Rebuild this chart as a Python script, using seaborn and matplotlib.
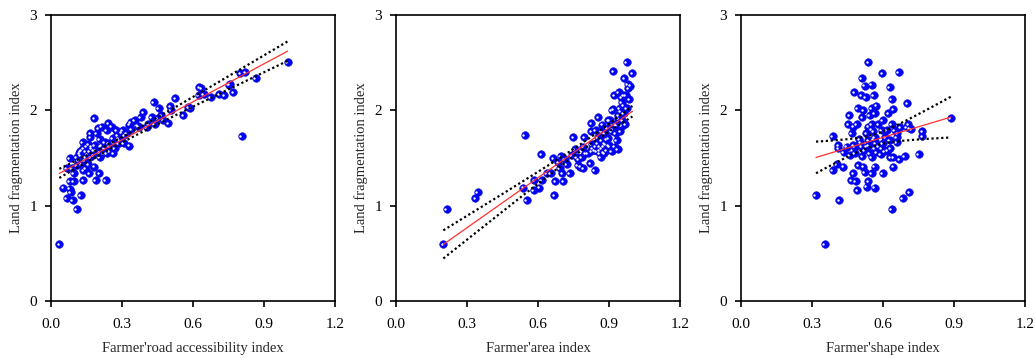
import matplotlib
matplotlib.use("Agg")
import matplotlib.pyplot as plt
import matplotlib.transforms as mtransforms
import numpy as np
import pandas as pd
import seaborn as sns

# panel 1: road accessibility vs land fragmentation
road_x = [0.035, 1.0, 0.806, 0.865, 0.80, 0.82, 0.75, 0.755, 0.77, 0.733, 0.71, 0.675,
          0.627, 0.635, 0.624, 0.645, 0.589, 0.58, 0.558, 0.525, 0.507, 0.503, 0.496,
          0.466, 0.456, 0.435, 0.475, 0.438, 0.425, 0.404, 0.39, 0.379, 0.366, 0.355,
          0.338, 0.331, 0.32, 0.331, 0.308, 0.296, 0.303, 0.275, 0.28, 0.285, 0.287,
          0.263, 0.27, 0.249, 0.256, 0.242, 0.235, 0.232, 0.221, 0.228, 0.214, 0.207,
          0.214, 0.2, 0.182, 0.193, 0.186, 0.179, 0.19, 0.204, 0.183, 0.165, 0.165,
          0.158, 0.162, 0.165, 0.158, 0.162, 0.148, 0.144, 0.137, 0.134, 0.148, 0.137,
          0.13, 0.123, 0.123, 0.115, 0.125, 0.108, 0.097, 0.08, 0.092, 0.083, 0.08,
          0.066, 0.052, 0.08, 0.097, 0.087, 0.066, 0.108, 0.108, 0.13, 0.151, 0.172,
          0.207, 0.179, 0.207, 0.235, 0.249, 0.263, 0.137, 0.12, 0.14, 0.155, 0.17,
          0.19, 0.21, 0.225, 0.245, 0.26, 0.29, 0.31, 0.34, 0.37, 0.41, 0.45]
road_y = [0.594, 2.51, 1.734, 2.336, 2.39, 2.40, 2.27, 2.28, 2.19, 2.16, 2.17, 2.14,
          2.24, 2.23, 2.16, 2.17, 2.02, 2.03, 1.95, 2.13, 2.0, 2.045, 1.87,
          1.95, 2.02, 2.09, 1.90, 1.86, 1.93, 1.82, 1.98, 1.93, 1.84, 1.90,
          1.88, 1.85, 1.76, 1.63, 1.66, 1.77, 1.79, 1.79, 1.74, 1.71, 1.66,
          1.67, 1.60, 1.62, 1.83, 1.87, 1.79, 1.27, 1.55, 1.67, 1.63, 1.70,
          1.83, 1.81, 1.92, 1.76, 1.64, 1.58, 1.27, 1.34, 1.41, 1.76, 1.72,
          1.65, 1.57, 1.51, 1.44, 1.34, 1.57, 1.51, 1.60, 1.67, 1.39, 1.27,
          1.44, 1.53, 1.57, 1.48, 1.11, 0.96, 1.26, 1.26, 1.06, 1.14, 1.18,
          1.08, 1.19, 1.50, 1.34, 1.39, 1.39, 1.43, 1.51, 1.58, 1.62, 1.62,
          1.56, 1.53, 1.51, 1.55, 1.57, 1.55, 1.37, 1.55, 1.48, 1.54, 1.60,
          1.58, 1.62, 1.60, 1.66, 1.71, 1.69, 1.74, 1.80, 1.83, 1.86, 1.92]

# panel 2: area index
area_x = [0.2, 0.214, 0.334, 0.345, 0.545, 0.538, 0.552, 0.585, 0.582, 0.606, 0.615,
          0.613, 0.638, 0.655, 0.669, 0.672, 0.665, 0.686, 0.697, 0.703, 0.707, 0.693,
          0.714, 0.721, 0.735, 0.742, 0.749, 0.756, 0.763, 0.768, 0.779, 0.784, 0.796,
          0.792, 0.792, 0.8, 0.82, 0.825, 0.827, 0.825, 0.825, 0.839, 0.841, 0.845,
          0.852, 0.855, 0.858, 0.862, 0.869, 0.872, 0.876, 0.88, 0.883, 0.886, 0.89,
          0.894, 0.897, 0.904, 0.904, 0.911, 0.918, 0.922, 0.918, 0.925, 0.928, 0.932,
          0.937, 0.939, 0.942, 0.946, 0.948, 0.951, 0.954, 0.956, 0.961, 0.962, 0.965,
          0.968, 0.97, 0.975, 0.975, 0.979, 0.982, 0.985, 0.989, 0.999, 0.954, 0.928,
          0.911, 0.897, 0.869, 0.848, 0.866, 0.911, 0.87, 0.88, 0.89, 0.86, 0.875,
          0.90, 0.915, 0.93, 0.94, 0.95, 0.96, 0.85, 0.84, 0.83, 0.81, 0.77]
area_y = [0.594, 0.96, 1.08, 1.14, 1.74, 1.19, 1.06, 1.27, 1.16, 1.19, 1.27,
          1.54, 1.34, 1.34, 1.11, 1.26, 1.50, 1.46, 1.52, 1.34, 1.26, 1.39,
          1.49, 1.44, 1.34, 1.53, 1.72, 1.59, 1.51, 1.43, 1.41, 1.51, 1.72,
          1.62, 1.39, 1.55, 1.45, 1.57, 1.65, 1.87, 1.78, 1.37, 1.62, 1.79,
          1.72, 1.93, 1.62, 1.55, 1.69, 1.85, 1.62, 1.55, 1.76, 1.65, 1.58,
          1.81, 1.71, 1.90, 1.62, 1.78, 2.41, 2.16, 2.01, 1.62, 1.86, 1.69,
          1.59, 1.95, 2.19, 2.02, 1.78, 2.14, 2.09, 1.90, 2.16, 1.97, 2.34,
          1.86, 2.16, 2.51, 2.02, 2.28, 2.23, 2.12, 2.26, 2.39, 1.84, 1.76,
          2.0, 1.90, 1.78, 1.57, 1.51, 1.57, 1.60, 1.66, 1.70, 1.58, 1.56,
          1.64, 1.80, 1.84, 1.92, 1.99, 2.05, 1.66, 1.58, 1.60, 1.55, 1.49]

# panel 3: shape index
shape_x = [0.355, 0.317, 0.415, 0.636, 0.683, 0.71, 0.887, 0.752, 0.765, 0.765, 0.703,
           0.666, 0.538, 0.597, 0.51, 0.552, 0.628, 0.478, 0.524, 0.508, 0.561, 0.527,
           0.636, 0.572, 0.494, 0.552, 0.517, 0.643, 0.566, 0.622, 0.458, 0.513, 0.545,
           0.6, 0.453, 0.489, 0.538, 0.552, 0.58, 0.636, 0.707, 0.672, 0.714, 0.594,
           0.615, 0.559, 0.65, 0.468, 0.387, 0.566, 0.658, 0.538, 0.503, 0.6, 0.628,
           0.658, 0.411, 0.446, 0.475, 0.51, 0.532, 0.566, 0.594, 0.63, 0.411, 0.435,
           0.46, 0.48, 0.513, 0.552, 0.573, 0.608, 0.63, 0.643, 0.669, 0.693, 0.404,
           0.432, 0.387, 0.496, 0.517, 0.475, 0.524, 0.552, 0.6, 0.566, 0.465, 0.486,
           0.538, 0.531, 0.566, 0.492, 0.643, 0.475, 0.58, 0.545, 0.52, 0.54, 0.56,
           0.53, 0.55, 0.57, 0.59, 0.61, 0.50, 0.62, 0.48, 0.66, 0.70, 0.72]
shape_y = [0.594, 1.11, 1.06, 0.96, 1.08, 1.14, 1.92, 1.54, 1.78, 1.73, 2.08,
           2.40, 2.51, 2.39, 2.34, 2.27, 2.24, 2.19, 2.26, 2.16, 2.16, 2.14,
           2.12, 2.05, 2.02, 2.02, 2.0, 2.01, 1.97, 1.97, 1.95, 1.93, 1.95,
           1.90, 1.86, 1.86, 1.83, 1.86, 1.86, 1.86, 1.86, 1.82, 1.81, 1.79,
           1.79, 1.78, 1.79, 1.76, 1.73, 1.72, 1.72, 1.69, 1.67, 1.66, 1.69,
           1.67, 1.64, 1.62, 1.64, 1.62, 1.62, 1.60, 1.60, 1.60, 1.60, 1.56,
           1.53, 1.55, 1.52, 1.51, 1.56, 1.57, 1.51, 1.51, 1.49, 1.52, 1.44,
           1.41, 1.37, 1.43, 1.41, 1.34, 1.35, 1.34, 1.34, 1.41, 1.27, 1.26,
           1.26, 1.20, 1.19, 1.16, 1.41, 1.83, 1.62, 1.55, 1.58, 1.64, 1.70,
           1.76, 1.80, 1.66, 1.54, 1.72, 1.70, 1.58, 1.62, 1.76, 1.82, 1.80]

x_labels = ["Farmer'road accessibility index", "Farmer'area index", "Farmer'shape index"]
y_label = "Land fragmentation index"
panels = [(road_x, road_y), (area_x, area_y), (shape_x, shape_y)]

sns.set_style("white")
plt.rcParams['font.family'] = ['Liberation Serif', 'DejaVu Serif']

fig = plt.figure(figsize=(10.35, 3.59), dpi=100)
lefts = [51, 396, 741]
for i, (xs, ys) in enumerate(panels):
    ax = fig.add_axes([lefts[i] / 1035, 58 / 359, 284 / 1035, 286 / 359])
    df = pd.DataFrame({'x': xs, 'y': ys})

    sns.scatterplot(data=df, x='x', y='y', ax=ax, color='#0000ff', s=30,
                    edgecolor='#1010c0', linewidth=0.4, zorder=3)
    # white highlight on each ball
    shift = mtransforms.ScaledTranslation(-1.1 / 72, 0.1 / 72, fig.dpi_scale_trans)
    ax.scatter(df.x, df.y, s=3, color='white', linewidths=0,
               transform=ax.transData + shift, zorder=4)

    # linear fit with 95% confidence band of the mean
    x = df.x.values
    y = df.y.values
    n = len(x)
    b, a = np.polyfit(x, y, 1)
    resid = y - (a + b * x)
    s_err = np.sqrt(np.sum(resid ** 2) / (n - 2))
    xg = np.linspace(x.min(), x.max(), 100)
    yg = a + b * xg
    half = 1.97 * s_err * np.sqrt(1 / n + (xg - x.mean()) ** 2 / np.sum((x - x.mean()) ** 2))
    ax.plot(xg, yg, color='#ff3030', lw=0.9, zorder=5)
    ax.plot(xg, yg + half, color='black', lw=1.6, ls=(0, (1, 1.2)), zorder=5)
    ax.plot(xg, yg - half, color='black', lw=1.6, ls=(0, (1, 1.2)), zorder=5)

    ax.set_xlim(0, 1.2)
    ax.set_ylim(0, 3)
    ax.set_xticks([0.0, 0.3, 0.6, 0.9, 1.2])
    ax.set_xticklabels(['0.0', '0.3', '0.6', '0.9', '1.2'])
    ax.set_yticks([0, 1, 2, 3])
    ax.tick_params(axis='both', direction='out', length=4, width=1.2, labelsize=11,
                   colors='black')
    ax.tick_params(axis='x', pad=8)
    ax.tick_params(axis='y', pad=6)
    ax.tick_params(top=False, right=False, bottom=True, left=True)
    for side in ['left', 'bottom', 'top', 'right']:
        ax.spines[side].set_color('black')
        ax.spines[side].set_linewidth(1.2)
    ax.set_xlabel(x_labels[i], fontsize=10.5, labelpad=8)
    ax.set_ylabel(y_label, fontsize=10.5, labelpad=5)

fig.savefig('out.png', dpi=100)
